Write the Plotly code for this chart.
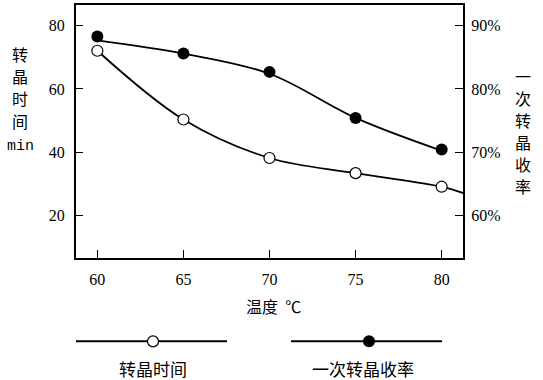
import plotly.graph_objects as go

# ---- data ----
temps = [60, 65, 70, 75, 80]
time_min = [72.1, 50.3, 38.1, 33.3, 29.0]          # 转晶时间 (min), left axis
yield_pct = [88.3, 85.6, 82.7, 75.4, 70.4]          # 一次转晶收率 (%), right axis

# smooth fitted curves as drawn in the figure
time_curve_x = [60, 65, 70, 75, 80, 81.4]
time_curve_y = [72.1, 50.3, 38.1, 33.3, 29.0, 26.7]
yield_curve_x = [60, 65, 70, 75, 80]
yield_curve_y = [87.7, 85.6, 82.4, 75.4, 70.2]

x_ticks = [60, 65, 70, 75, 80]
left_ticks = [20, 40, 60, 80]
right_ticks = [60, 70, 80, 90]
right_tick_labels = ["60%", "70%", "80%", "90%"]

left_title_chars = ["转", "晶", "时", "间"]
right_title_chars = ["一", "次", "转", "晶", "收", "率"]

SERIF = "Liberation Serif, Noto Sans CJK SC, serif"
CJK = "Noto Sans CJK SC, sans-serif"

W, H = 543, 380
L, R, T, B = 76, 80, 3, 122
PW, PH = W - L - R, H - T - B


def px(x):
    return (x - L) / PW


def py(y):
    return (H - B - y) / PH


fig = go.Figure()

fig.add_trace(go.Scatter(x=time_curve_x, y=time_curve_y, mode="lines",
                         line=dict(color="black", width=1.8, shape="spline", smoothing=1.0),
                         hoverinfo="skip", showlegend=False))
fig.add_trace(go.Scatter(x=yield_curve_x, y=yield_curve_y, mode="lines", yaxis="y2",
                         line=dict(color="black", width=1.8, shape="spline", smoothing=1.0),
                         hoverinfo="skip", showlegend=False))
fig.add_trace(go.Scatter(x=temps, y=time_min, mode="markers", name="转晶时间",
                         marker=dict(symbol="circle", size=11, color="white",
                                     line=dict(color="black", width=1.2)),
                         showlegend=False))
fig.add_trace(go.Scatter(x=temps, y=yield_pct, mode="markers", yaxis="y2", name="一次转晶收率",
                         marker=dict(symbol="circle", size=12, color="black",
                                     line=dict(color="black", width=0)),
                         showlegend=False))

axis_common = dict(showgrid=False, zeroline=False, showline=True, linecolor="black",
                   linewidth=2, ticks="inside", tickcolor="black", tickwidth=1,
                   tickfont=dict(family=SERIF, size=16, color="black"))

fig.update_layout(
    width=W, height=H,
    margin=dict(l=L, r=R, t=T, b=B),
    paper_bgcolor="white", plot_bgcolor="white",
    xaxis=dict(range=[58.76, 81.24], tickvals=x_ticks, ticklen=8, mirror=True,
               ticklabelstandoff=6, **axis_common),
    yaxis=dict(range=[6.4, 86.6], tickvals=left_ticks, ticklen=7, mirror=True,
               ticklabelstandoff=6, **axis_common),
    yaxis2=dict(range=[53.2, 93.3], tickvals=right_ticks, ticktext=right_tick_labels,
                ticklen=8, overlaying="y", side="right", ticklabelstandoff=3, **axis_common),
)

annotations = []
for i, ch in enumerate(left_title_chars):
    annotations.append(dict(x=px(20), y=py(52 + 22.5 * i), text=ch,
                            font=dict(family=CJK, size=16, color="black")))
annotations.append(dict(x=px(20), y=py(146), text="min",
                        font=dict(family="Liberation Mono, monospace", size=15, color="black")))
for i, ch in enumerate(right_title_chars):
    annotations.append(dict(x=px(523), y=py(75 + 22 * i), text=ch,
                            font=dict(family=CJK, size=16, color="black")))
annotations += [
    dict(x=px(273), y=py(306), text="温度  ℃",
         font=dict(family=CJK, size=16, color="black")),
    dict(x=px(153), y=py(369), text="转晶时间",
         font=dict(family=CJK, size=17, color="black")),
    dict(x=px(363), y=py(369), text="一次转晶收率",
         font=dict(family=CJK, size=17, color="black")),
]
for a in annotations:
    a.update(xref="paper", yref="paper", showarrow=False, xanchor="center", yanchor="middle")
fig.update_layout(annotations=annotations)

shapes = [
    dict(type="line", xref="paper", yref="paper", x0=px(76), x1=px(227), y0=py(342), y1=py(342),
         line=dict(color="black", width=2)),
    dict(type="line", xref="paper", yref="paper", x0=px(291), x1=px(442), y0=py(342), y1=py(342),
         line=dict(color="black", width=2)),
    dict(type="circle", xref="paper", yref="paper", xsizemode="pixel", ysizemode="pixel",
         xanchor=px(153), yanchor=py(342), x0=-5.5, x1=5.5, y0=-5.5, y1=5.5,
         fillcolor="white", line=dict(color="black", width=1.2)),
    dict(type="circle", xref="paper", yref="paper", xsizemode="pixel", ysizemode="pixel",
         xanchor=px(369), yanchor=py(342), x0=-6, x1=6, y0=-6, y1=6,
         fillcolor="black", line=dict(color="black", width=0)),
]
fig.update_layout(shapes=shapes)

fig.write_html("out.html", config={"displayModeBar": False},
               post_script="document.body.style.margin='0';document.body.style.padding='0';")
